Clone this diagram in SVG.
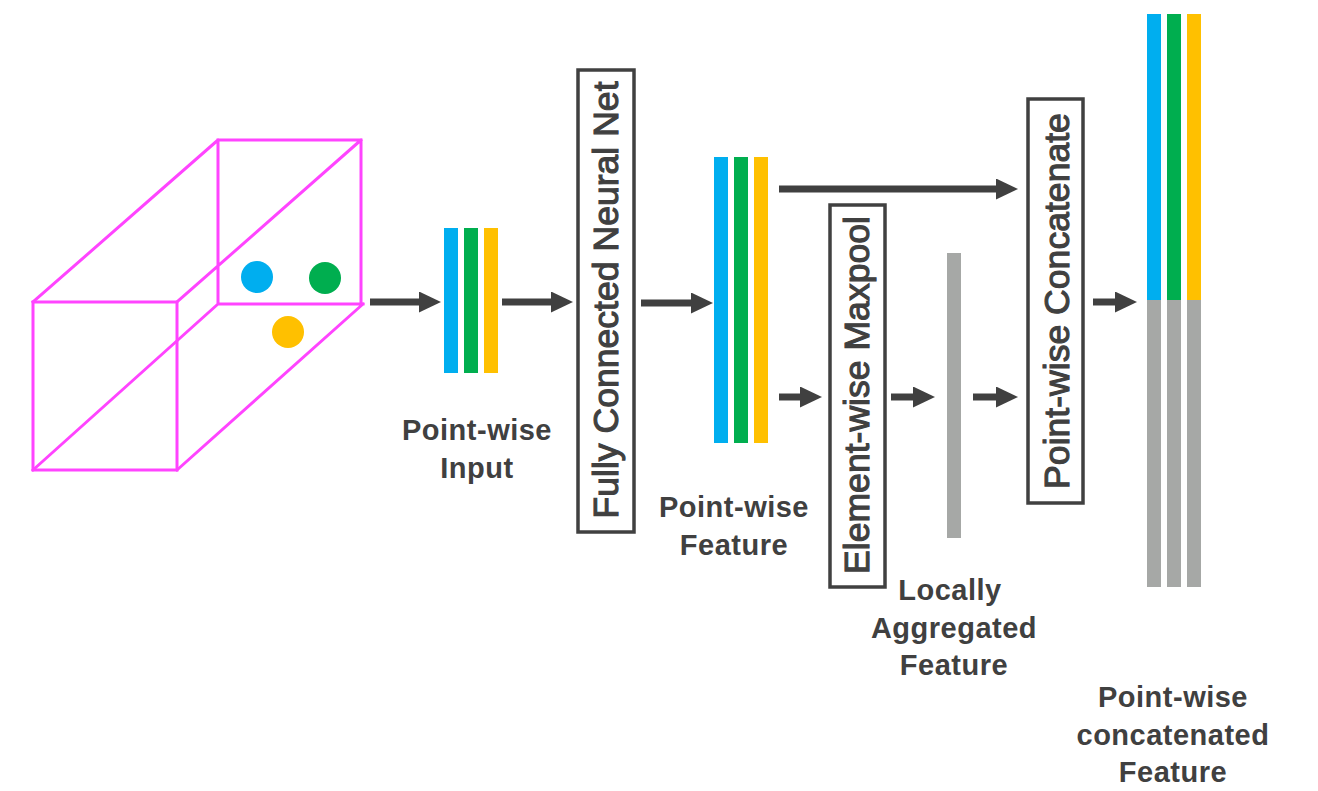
<svg xmlns="http://www.w3.org/2000/svg" width="1318" height="791" viewBox="0 0 1318 791">
<style>
.cube{fill:none;stroke:#ff44ff;stroke-width:3;stroke-linecap:square}
.box{fill:#fff;stroke:#404040;stroke-width:3.5}
.vt{font-family:"Liberation Sans",Arial,sans-serif;font-size:35.6px;fill:#404040;stroke:#404040;stroke-width:1.1;text-anchor:middle}
.lbl{font-family:"Liberation Sans",Arial,sans-serif;font-size:29px;font-weight:bold;fill:#404040;text-anchor:middle;letter-spacing:0.5px}
.arr{stroke:#404040;stroke-width:7;fill:none}
.b{fill:#00aeef}.g{fill:#00ae4f}.y{fill:#ffc000}.gr{fill:#a6a8a6}
</style>
<defs>
<marker id="ah" markerUnits="userSpaceOnUse" markerWidth="23" markerHeight="22" refX="0" refY="10.5" orient="auto">
<path d="M0,0 L22,10.5 L0,21 z" fill="#404040"/>
</marker>
</defs>
<rect width="1318" height="791" fill="#fff"/>

<g id="point-cloud">
<rect class="cube" x="33" y="302" width="144" height="168"/>
<path class="cube" d="M218,140 H361 V302 M218,140 V302 M218,304 H363 M33,302 L218,140 M177,302 L361,140 M33,470 L218,304 M177,470 L363,304"/>
<circle cx="257" cy="277" r="16" class="b"/>
<circle cx="325" cy="278" r="16" class="g"/>
<circle cx="288" cy="332" r="16" class="y"/>
</g>

<g id="pointwise-input">
<rect x="444" y="228" width="14" height="145" class="b"/>
<rect x="464" y="228" width="14" height="145" class="g"/>
<rect x="484" y="228" width="14" height="145" class="y"/>
<text class="lbl" x="477" y="440">Point-wise</text>
<text class="lbl" x="477" y="478">Input</text>
</g>

<g id="fc-net">
<rect class="box" x="578" y="70" width="56" height="462"/>
<text class="vt" transform="translate(618,300) rotate(-90)">Fully Connected Neural Net</text>
</g>

<g id="pointwise-feature">
<rect x="714" y="157" width="14" height="286" class="b"/>
<rect x="734" y="157" width="14" height="286" class="g"/>
<rect x="754" y="157" width="14" height="286" class="y"/>
<text class="lbl" x="734" y="517">Point-wise</text>
<text class="lbl" x="734" y="555">Feature</text>
</g>

<g id="maxpool">
<rect class="box" x="830" y="205" width="55" height="382"/>
<text class="vt" transform="translate(869,395) rotate(-90)">Element-wise Maxpool</text>
</g>

<g id="local-feature">
<rect x="947" y="253" width="14" height="285" class="gr"/>
<text class="lbl" x="950" y="600">Locally</text>
<text class="lbl" x="954" y="638">Aggregated</text>
<text class="lbl" x="954" y="675">Feature</text>
</g>

<g id="concatenate">
<rect class="box" x="1028" y="99" width="55" height="404"/>
<text class="vt" transform="translate(1069,301) rotate(-90)">Point-wise Concatenate</text>
</g>

<g id="concat-feature">
<rect x="1147" y="14" width="14" height="286" class="b"/>
<rect x="1167" y="14" width="14" height="286" class="g"/>
<rect x="1187" y="14" width="14" height="286" class="y"/>
<rect x="1147" y="300" width="14" height="287" class="gr"/>
<rect x="1167" y="300" width="14" height="287" class="gr"/>
<rect x="1187" y="300" width="14" height="287" class="gr"/>
<text class="lbl" x="1173" y="707">Point-wise</text>
<text class="lbl" x="1173" y="745">concatenated</text>
<text class="lbl" x="1173" y="782">Feature</text>
</g>

<g id="connectors">
<line class="arr" x1="370" y1="302" x2="419" y2="302" marker-end="url(#ah)"/>
<line class="arr" x1="502" y1="302" x2="551" y2="302" marker-end="url(#ah)"/>
<line class="arr" x1="641" y1="303" x2="691" y2="303" marker-end="url(#ah)"/>
<line class="arr" x1="779" y1="189" x2="996" y2="189" marker-end="url(#ah)"/>
<line class="arr" x1="779" y1="397" x2="800" y2="397" marker-end="url(#ah)"/>
<line class="arr" x1="891" y1="397" x2="913" y2="397" marker-end="url(#ah)"/>
<line class="arr" x1="973" y1="397" x2="996" y2="397" marker-end="url(#ah)"/>
<line class="arr" x1="1093" y1="302" x2="1115" y2="302" marker-end="url(#ah)"/>
</g>
</svg>
